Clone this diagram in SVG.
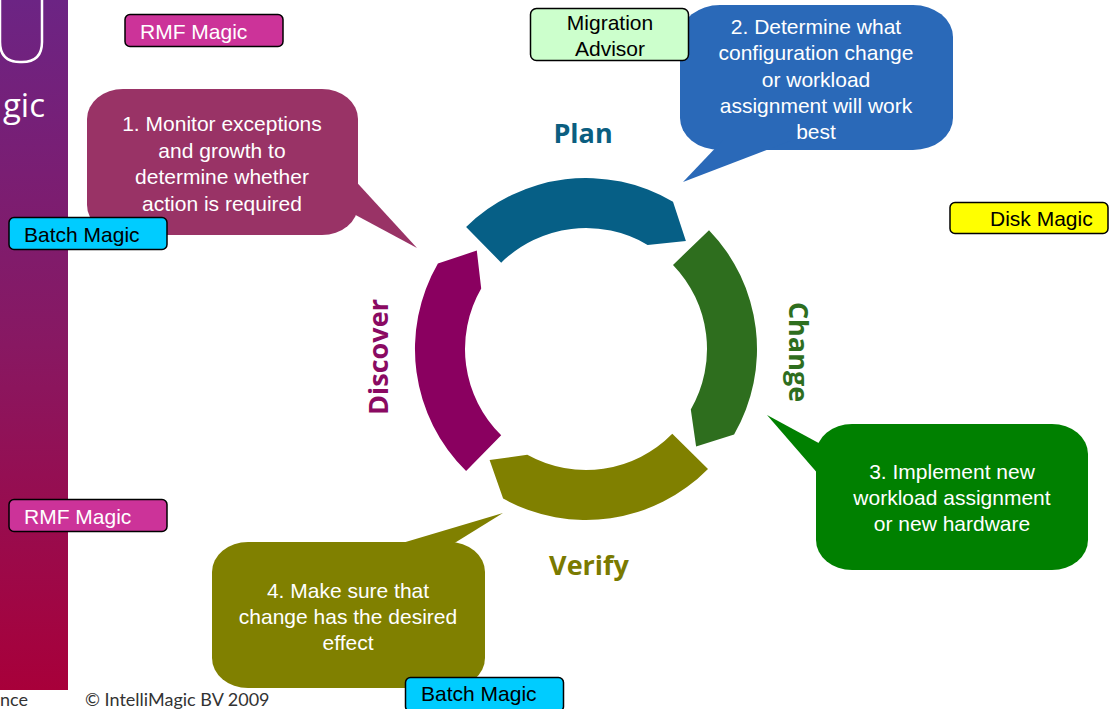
<svg xmlns="http://www.w3.org/2000/svg" width="1111" height="709" viewBox="0 0 1111 709">
<defs>
<linearGradient id="side" x1="0" y1="0" x2="0" y2="1">
<stop offset="0" stop-color="#6c2484"/>
<stop offset="0.5" stop-color="#881862"/>
<stop offset="1" stop-color="#a8003a"/>
</linearGradient>
<style>
.ct{font-family:"Liberation Sans",Arial,sans-serif;font-size:21px;fill:#fff;text-anchor:middle}
.lb{font-family:"Liberation Sans",Arial,sans-serif;font-size:21px}
.box{stroke:#000;stroke-width:1.5}
.ph{font-family:"Open Sans",sans-serif;font-weight:bold;font-size:27px;text-anchor:middle}
</style>
</defs>
<rect width="1111" height="709" fill="#fff"/>
<g id="sidebar">
<rect x="0" y="0" width="68" height="690" fill="url(#side)"/>
<path d="M0 0 V42 Q0 62 20 62 H22 Q42 62 42 42 V0" fill="none" stroke="#fff" stroke-width="2.5"/>
<text x="45" y="117" text-anchor="end" font-family="Open Sans,sans-serif" font-size="33" fill="#fff">gic</text>
<text x="0" y="706" font-family="Lato,sans-serif" font-size="18" fill="#333">nce</text>
</g>
<text id="copyright" x="85" y="706" font-family="Lato,sans-serif" font-size="18" fill="#333">© IntelliMagic BV 2009</text>
<g id="ring">
<path id="seg-plan" d="M466.1 227 A171 171 0 0 1 673 201.8 L685.9 241.1 L647.6 244.9 A121 121 0 0 0 501.2 262.7 Z" fill="#065f86"/>
<path id="seg-change" d="M709 230.2 A171 171 0 0 1 734.1 434.5 L696.1 446.4 L690.8 409.5 A121 121 0 0 0 673 264.9 Z" fill="#2e6e1e"/>
<path id="seg-verify" d="M708 468.9 A171 171 0 0 1 503.1 498.6 L489.6 459.9 L527.3 454.8 A121 121 0 0 0 672.3 433.8 Z" fill="#808000"/>
<path id="seg-discover" d="M466.1 471 A171 171 0 0 1 437.9 263.5 L476.8 250.6 L481.2 288.5 A121 121 0 0 0 501.2 435.3 Z" fill="#8a0060"/>
</g>
<g id="phase-labels">
<text class="ph" x="583" y="143" fill="#0b5e80">Plan</text>
<text class="ph" x="589" y="575" fill="#7a7a00">Verify</text>
<text class="ph" transform="translate(789 352) rotate(90)" fill="#2e6e1e">Change</text>
<text class="ph" transform="translate(388 357) rotate(-90)" fill="#8a0a62">Discover</text>
</g>
<g id="callout1">
<rect x="87" y="89" width="271" height="146" rx="36" ry="30" fill="#993366"/>
<polygon points="350,175 417,248 350,212" fill="#993366"/>
<text class="ct" x="222" y="131">1. Monitor exceptions</text>
<text class="ct" x="222" y="158">and growth to</text>
<text class="ct" x="222" y="184">determine whether</text>
<text class="ct" x="222" y="211">action is required</text>
</g>
<g id="callout2">
<rect x="680" y="5" width="273" height="145" rx="40" ry="32" fill="#2a69b8"/>
<polygon points="723,140 683,182 793,140" fill="#2a69b8"/>
<text class="ct" x="816" y="34">2. Determine what</text>
<text class="ct" x="816" y="60">configuration change</text>
<text class="ct" x="816" y="87">or workload</text>
<text class="ct" x="816" y="113">assignment will work</text>
<text class="ct" x="816" y="139">best</text>
</g>
<g id="callout3">
<rect x="816" y="424" width="272" height="146" rx="36" ry="30" fill="#008000"/>
<polygon points="826,447 767,415 826,483" fill="#008000"/>
<text class="ct" x="952" y="479">3. Implement new</text>
<text class="ct" x="952" y="505">workload assignment</text>
<text class="ct" x="952" y="531">or new hardware</text>
</g>
<g id="callout4">
<rect x="212" y="542" width="273" height="146" rx="36" ry="30" fill="#808000"/>
<polygon points="372,552 503,513 440,552" fill="#808000"/>
<text class="ct" x="348" y="598">4. Make sure that</text>
<text class="ct" x="348" y="624">change has the desired</text>
<text class="ct" x="348" y="650">effect</text>
</g>
<g id="migration-advisor">
<rect class="box" x="530.5" y="8.5" width="158" height="52" rx="6" fill="#ccffcc"/>
<text class="lb" x="610" y="30" text-anchor="middle" fill="#000">Migration</text>
<text class="lb" x="610" y="56" text-anchor="middle" fill="#000">Advisor</text>
</g>
<g id="rmf-top">
<rect class="box" x="125" y="14.5" width="158" height="32" rx="5" fill="#cc3399"/>
<text class="lb" x="140" y="39" fill="#fff">RMF Magic</text>
</g>
<g id="batch-left">
<rect class="box" x="9" y="217.5" width="158" height="32" rx="5" fill="#00ccff"/>
<text class="lb" x="24" y="242" fill="#000">Batch Magic</text>
</g>
<g id="rmf-left">
<rect class="box" x="9" y="499.5" width="158" height="32" rx="5" fill="#cc3399"/>
<text class="lb" x="24" y="524" fill="#fff">RMF Magic</text>
</g>
<g id="disk-magic">
<rect class="box" x="950" y="202.5" width="158" height="31" rx="5" fill="#ffff00"/>
<text class="lb" x="990" y="226" fill="#000">Disk Magic</text>
</g>
<g id="batch-bottom">
<rect class="box" x="405.5" y="677.5" width="158" height="34" rx="5" fill="#00ccff"/>
<text class="lb" x="421" y="701" fill="#000">Batch Magic</text>
</g>
</svg>
